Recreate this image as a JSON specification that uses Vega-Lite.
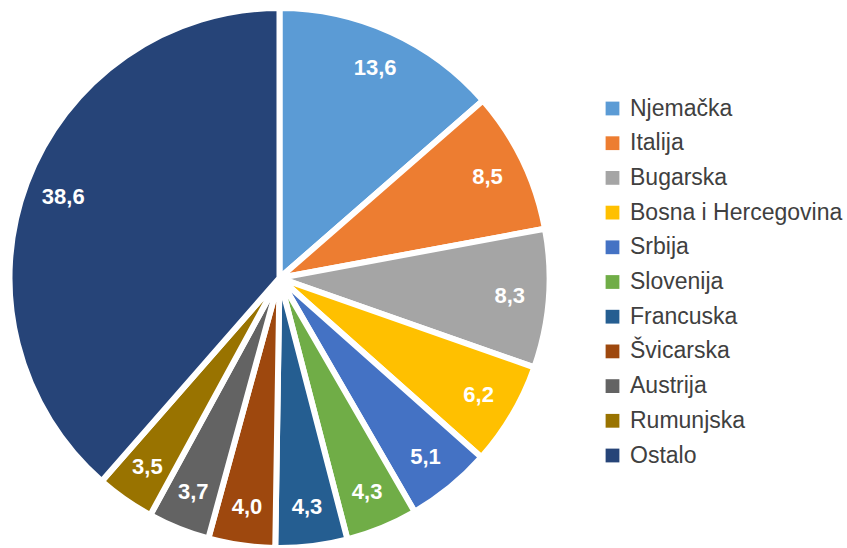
{
  "$schema": "https://vega.github.io/schema/vega-lite/v6.json",
  "width": 559,
  "height": 556,
  "padding": 0,
  "background": "white",
  "config": {"view": {"stroke": null}, "font": "Liberation Sans"},
  "data": {"values": [
    {"country": "Njemačka", "value": 13.6, "label": "13,6", "order": 1},
    {"country": "Italija", "value": 8.5, "label": "8,5", "order": 2},
    {"country": "Bugarska", "value": 8.3, "label": "8,3", "order": 3},
    {"country": "Bosna i Hercegovina", "value": 6.2, "label": "6,2", "order": 4},
    {"country": "Srbija", "value": 5.1, "label": "5,1", "order": 5},
    {"country": "Slovenija", "value": 4.3, "label": "4,3", "order": 6},
    {"country": "Francuska", "value": 4.3, "label": "4,3", "order": 7},
    {"country": "Švicarska", "value": 4.0, "label": "4,0", "order": 8},
    {"country": "Austrija", "value": 3.7, "label": "3,7", "order": 9},
    {"country": "Rumunjska", "value": 3.5, "label": "3,5", "order": 10},
    {"country": "Ostalo", "value": 38.6, "label": "38,6", "order": 11}
  ]},
  "encoding": {
    "theta": {"field": "value", "type": "quantitative", "stack": true},
    "order": {"field": "order", "type": "quantitative"}
  },
  "layer": [
    {
      "mark": {"type": "arc", "outerRadius": 270, "stroke": "white", "strokeWidth": 6, "strokeJoin": "round"},
      "encoding": {
        "color": {
          "field": "country", "type": "nominal",
          "sort": ["Njemačka", "Italija", "Bugarska", "Bosna i Hercegovina", "Srbija", "Slovenija", "Francuska", "Švicarska", "Austrija", "Rumunjska", "Ostalo"],
          "scale": {
            "domain": ["Njemačka", "Italija", "Bugarska", "Bosna i Hercegovina", "Srbija", "Slovenija", "Francuska", "Švicarska", "Austrija", "Rumunjska", "Ostalo"],
            "range": ["#5B9BD5", "#ED7D31", "#A5A5A5", "#FFC000", "#4472C4", "#70AD47", "#255E91", "#9E480E", "#636363", "#997300", "#264478"]
          },
          "legend": {
            "title": null,
            "orient": "none",
            "legendX": 601,
            "legendY": 97,
            "symbolType": "square",
            "symbolSize": 190,
            "symbolStrokeWidth": 0,
            "labelFontSize": 23,
            "labelColor": "#404040",
            "labelFont": "Liberation Sans",
            "labelOffset": 6,
            "rowPadding": 10.7,
            "labelLimit": 300
          }
        }
      }
    },
    {
      "mark": {"type": "text", "radius": 231, "fill": "white", "fontSize": 22, "fontWeight": "bold", "font": "Liberation Sans"},
      "encoding": {"text": {"field": "label"}}
    }
  ]
}
